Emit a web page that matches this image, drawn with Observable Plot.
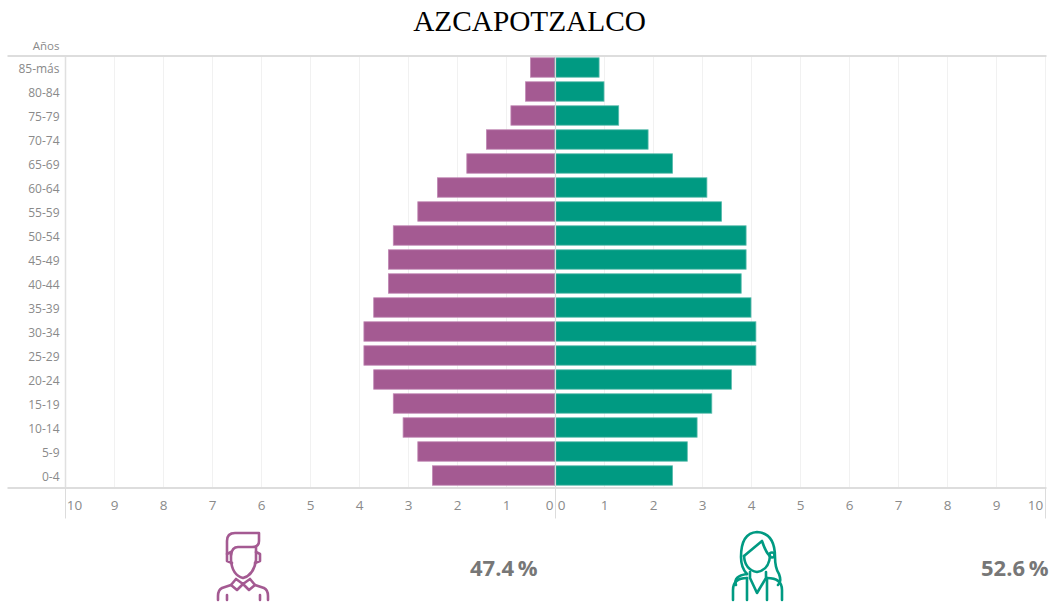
<!DOCTYPE html>
<html>
<head>
<meta charset="utf-8">
<script src="https://cdn.jsdelivr.net/npm/d3@7"></script>
<script src="https://cdn.jsdelivr.net/npm/@observablehq/plot@0.6"></script>
<style>
html,body{margin:0;padding:0;background:#fff;overflow:hidden;width:1051px;height:602px}
#page{position:relative;width:1051px;height:602px;overflow:hidden}
#title{position:absolute;left:4px;top:-1px;width:1051px;height:40px;line-height:44px;text-align:center;font-family:"Liberation Serif",serif;font-size:29.3px;color:#000}
#chart{position:absolute;left:0;top:30px}
.pct{position:absolute;top:553px;font-family:"Open Sans",sans-serif;font-weight:700;font-size:22px;line-height:28px;color:#777}
#icons{position:absolute;left:0;top:0}
</style>
</head>
<body>
<div id="page">
  <div id="title">AZCAPOTZALCO</div>
  <div id="chart"></div>
  <svg id="icons" width="1051" height="602" fill="none" stroke-width="2.6" stroke-linecap="round" stroke-linejoin="round">
    <g stroke="#a45a92">
      <path d="M227 554V541Q227 533 235 533H259V541Q259 547 252 547H238Q232 547 231 555"/>
      <path d="M231 553V560Q232 575 243 578Q254 575 256 560V547"/>
      <path d="M231 552L227 554V561L232 563M256 552L260 554V561L255 563"/>
      <path d="M236 579L243 584L237 590L231 585L236 579M250 579L243 584L249 590L255 585L250 579"/>
      <path d="M231 585L222 588Q218 590 218 596V600M255 585L264 588Q268 590 268 596V600"/>
      <path d="M227 595V600M260 595V600"/>
    </g>
    <g stroke="#009a82">
      <path d="M747 574Q741 568 741 557Q741 533 757 532Q775 533 775 557Q775 568 779 574Q782 582 778 585"/>
      <path d="M747 574Q733 576 736 585"/>
      <path d="M744 556L762 541Q766 553 770 556"/>
      <path d="M744 556Q745 570 757 572Q769 570 770 556"/>
      <circle cx="772" cy="555" r="2.5"/>
      <path d="M750 572V578L757 593L766 578V572"/>
      <path d="M747 578V600M767 578V600"/>
      <path d="M747 578Q733 578 733 590V600M767 578Q782 578 782 590V600"/>
    </g>
  </svg>
  <div class="pct" style="left:470px">47.4&#8201;%</div>
  <div class="pct" style="left:981px">52.6&#8201;%</div>
</div>
<script>
const ageGroups = ["85-más","80-84","75-79","70-74","65-69","60-64","55-59","50-54","45-49","40-44","35-39","30-34","25-29","20-24","15-19","10-14","5-9","0-4"];
const maleValues = [0.5,0.6,0.9,1.4,1.8,2.4,2.8,3.3,3.4,3.4,3.7,3.9,3.9,3.7,3.3,3.1,2.8,2.5];
const femaleValues = [0.9,1.0,1.3,1.9,2.4,3.1,3.4,3.9,3.9,3.8,4.0,4.1,4.1,3.6,3.2,2.9,2.7,2.4];
const innerTicks = [-9,-8,-7,-6,-5,-4,-3,-2,-1,1,2,3,4,5,6,7,8,9];
const allTicks = [-10,...innerTicks,0,10];
const table = ageGroups.map((age,i)=>({age,male:maleValues[i],female:femaleValues[i]}));
const tickFont = {fontSize:13.5,fill:"#8a8a8a",frameAnchor:"bottom",dy:22,text:d=>String(Math.abs(d))};
const plot = Plot.plot({
  width:1051,height:492,
  marginLeft:65,marginRight:6,marginTop:25.5,marginBottom:34.5,
  style:{fontFamily:"'Open Sans',sans-serif",background:"transparent"},
  x:{domain:[-10,10],axis:null,label:null},
  y:{domain:ageGroups,paddingInner:0.19,paddingOuter:0.095,round:false,label:null,axis:null},
  marks:[
    Plot.ruleX(allTicks,{stroke:"#f1f1f1",strokeWidth:1}),
    Plot.barX(table,{y:"age",x1:0,x2:d=>-d.male,fill:"#a45a92",stroke:"#c088b4",strokeWidth:0.8}),
    Plot.barX(table,{y:"age",x1:0,x2:"female",fill:"#009a82",stroke:"#5cbcae",strokeWidth:0.8}),
    Plot.ruleX([0],{stroke:"#d9d9d9",strokeWidth:1.2}),
    Plot.ruleX([-10],{stroke:"#e0e0e0",strokeWidth:1.5}),
    Plot.frame({anchor:"top",stroke:"#dddddd",strokeWidth:2,insetLeft:-57}),
    Plot.frame({anchor:"bottom",stroke:"#dddddd",strokeWidth:2,insetLeft:-57}),
    Plot.axisX([-10,0,10],{tickSize:31,stroke:"#dcdcdc",label:null,tickFormat:()=>""}),
    Plot.axisY({tickSize:0,tickPadding:6,fontSize:12,color:"#8a8a8a",label:null,dy:1}),
    Plot.text(["Años"],{frameAnchor:"top-left",textAnchor:"end",dx:-6,dy:-14,fontSize:11.5,fill:"#8a8a8a"}),
    Plot.text(innerTicks,{x:d=>d,...tickFont}),
    Plot.text([-10],{x:d=>d,dx:9,...tickFont}),
    Plot.text([10],{x:d=>d,dx:-10,...tickFont}),
    Plot.text([0],{x:d=>d,dx:-6,...tickFont}),
    Plot.text([0],{x:d=>d,dx:6,...tickFont})
  ]
});
document.getElementById("chart").appendChild(plot);
</script>
</body>
</html>
